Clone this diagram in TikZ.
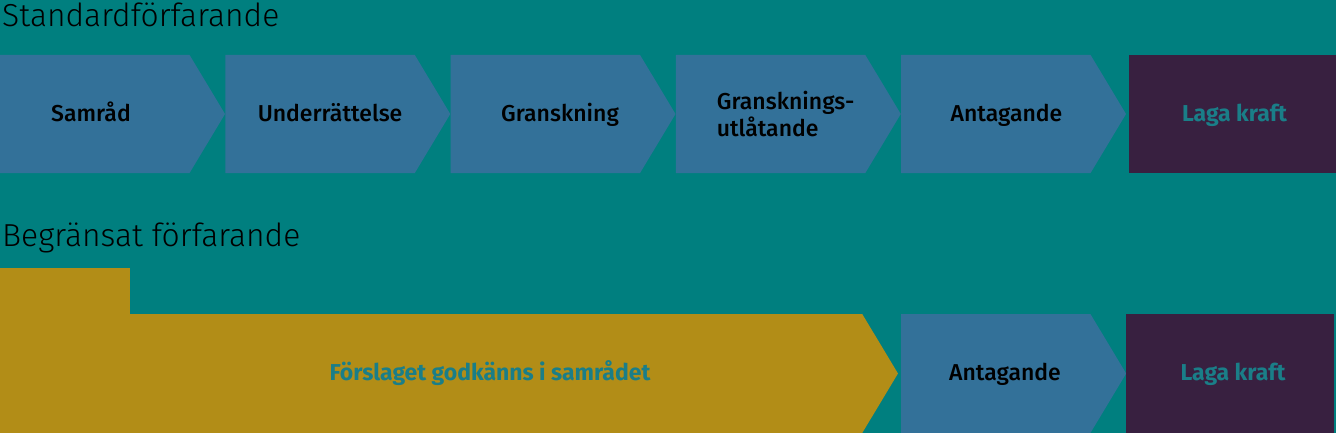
\documentclass[tikz,border=0pt]{standalone}
\usepackage{fontspec}
\setmainfont{Fira Sans}
\newfontfamily\lightfont{Fira Sans Light}
\newfontfamily\medfont{Fira Sans Medium}
\usetikzlibrary{shapes.symbols, positioning}
\definecolor{bgteal}{HTML}{007F7F}
\definecolor{stepblue}{HTML}{337199}
\definecolor{finalpurple}{HTML}{382040}
\definecolor{ochre}{HTML}{B28D17}
\definecolor{tealtext}{HTML}{1A7E88}

\begin{document}
\begin{tikzpicture}[x=1pt,y=-1pt,node distance=225.25pt,on grid,
        stepbox/.style={signal, signal to=east, signal pointer angle=118,
                fill=stepblue, minimum width=225pt, minimum height=118pt,
                inner sep=0pt, outer sep=0pt},
        finalbox/.style={rectangle, fill=finalpurple, minimum height=118pt,
                inner sep=0pt, outer sep=0pt},
        steptext/.style={anchor=base, inner sep=0pt, text=black,
                font=\medfont\fontsize{23}{27}\selectfont},
        finaltext/.style={steptext, text=tealtext,
                font=\bfseries\fontsize{23}{27}\selectfont},
        heading/.style={anchor=base west, inner sep=0pt,
                font=\lightfont\fontsize{31.8}{36}\selectfont}]
        \fill[bgteal] (0,0) rectangle (1336,433);
        \useasboundingbox (0,0) rectangle (1336,433);

        % Standardförfarande
        \node[heading] (h1) at (2,27) {Standardförfarande};
        \node[stepbox] (s1) at (94.8,114) {};
        \node[stepbox, right=of s1] (s2) {};
        \node[stepbox, right=of s2] (s3) {};
        \node[stepbox, right=of s3] (s4) {};
        \node[stepbox, right=of s4] (s5) {};
        \node[finalbox, minimum width=207pt, right=236.7pt of s5] (s6) {};
        \node[steptext] at ([xshift=-3.8pt,yshift=-7.5pt]s1.center) {Samråd};
        \node[steptext] at ([xshift=10pt,yshift=-7.5pt]s2.center) {Underrättelse};
        \node[steptext] at ([xshift=14.7pt,yshift=-7.5pt]s3.center) {Granskning};
        \node[steptext, anchor=west, align=left] at ([xshift=-53.8pt,yshift=-0.5pt]s4.center) {Gransknings-\\utlåtande};
        \node[steptext] at ([xshift=10.7pt,yshift=-7.5pt]s5.center) {Antagande};
        \node[finaltext] at ([xshift=2pt,yshift=-7.5pt]s6.center) {Laga kraft};

        % Begränsat förfarande
        \node[heading] (h2) at (2,246.5) {Begränsat förfarande};
        \node[fill=ochre, anchor=north west, minimum width=130pt, minimum height=48pt,
                inner sep=0pt, outer sep=0pt] (b0) at (0,268) {};
        \node[stepbox, fill=ochre, minimum width=898pt, minimum height=119pt] (b1) at (431.1,373.5) {};
        \node[stepbox, minimum height=119pt, right=564.7pt of b1] (b2) {};
        \node[finalbox, minimum width=208pt, minimum height=119pt, right=234.2pt of b2] (b3) {};
        \node[finaltext] at ([xshift=58.9pt,yshift=-7pt]b1.center) {Förslaget godkänns i samrådet};
        \node[steptext] at ([xshift=9.2pt,yshift=-7pt]b2.center) {Antagande};
        \node[finaltext] at ([xshift=3pt,yshift=-7pt]b3.center) {Laga kraft};
\end{tikzpicture}
\end{document}
